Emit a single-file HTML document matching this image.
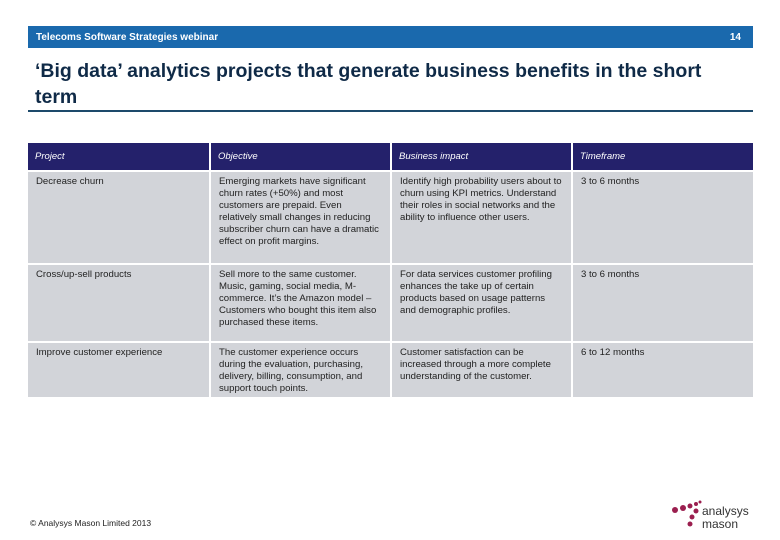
<!DOCTYPE html>
<html><head><meta charset="utf-8"><style>
body{margin:0;width:780px;height:540px;background:#fff;position:relative;font-family:"Liberation Sans",sans-serif;overflow:hidden}
.bar{position:absolute;left:28px;top:26px;width:725px;height:22px;background:#1a69ad;color:#fff;font-size:10px;font-weight:bold}
.bar span{position:absolute;top:6px}
h1{position:absolute;left:35px;top:58px;margin:0;font-size:19.5px;line-height:26px;color:#0f2a47;font-weight:bold;width:700px}
.rule{position:absolute;left:28px;top:110px;width:725px;height:2px;background:#1d4a6b}
table{position:absolute;left:28px;top:143px;border-collapse:separate;border-spacing:2px 2px;margin:-2px;font-size:9.6px;line-height:12px;color:#222}
td{vertical-align:top;padding:4px 8px 0 8px;background:#d2d4d9}
th{background:#24216b;color:#fff;font-style:italic;font-weight:normal;text-align:left;height:27px;padding:0 7px;font-size:9.5px}
.foot{position:absolute;left:30px;top:518px;font-size:8.5px;color:#222}
</style></head><body>
<div class="bar"><span style="left:8px">Telecoms Software Strategies webinar</span><span style="right:12px">14</span></div>
<h1>‘Big data’ analytics projects that generate business benefits in the short term</h1>
<div class="rule"></div>
<table>
<tr><th style="width:167px">Project</th><th style="width:165px">Objective</th><th style="width:165px">Business impact</th><th style="width:166px">Timeframe</th></tr>
<tr style="height:91px"><td>Decrease churn</td><td>Emerging markets have significant churn rates (+50%) and most customers are prepaid. Even relatively small changes in reducing subscriber churn can have a dramatic effect on profit margins.</td><td>Identify high probability users about to churn using KPI metrics. Understand their roles in social networks and the ability to influence other users.</td><td>3 to 6 months</td></tr>
<tr style="height:76px"><td>Cross/up-sell products</td><td>Sell more to the same customer. Music, gaming, social media, M-commerce. It’s the Amazon model – Customers who bought this item also purchased these items.</td><td>For data services customer profiling enhances the take up of certain products based on usage patterns and demographic profiles.</td><td>3 to 6 months</td></tr>
<tr style="height:54px"><td>Improve customer experience</td><td>The customer experience occurs during the evaluation, purchasing, delivery, billing, consumption, and support touch points.</td><td>Customer satisfaction can be increased through a more complete understanding of the customer.</td><td>6 to 12 months</td></tr>
</table>
<div class="foot">© Analysys Mason Limited 2013</div>
<svg style="position:absolute;left:670px;top:498px" width="90" height="34">
<g fill="#9b1f4f"><circle cx="5" cy="12" r="3"/><circle cx="13" cy="10" r="3"/><circle cx="20" cy="8" r="2.5"/><circle cx="26" cy="6" r="2"/><circle cx="26" cy="13" r="2.5"/><circle cx="22" cy="19" r="2.5"/><circle cx="20" cy="26" r="2.5"/><circle cx="30" cy="4" r="1.5"/></g>
<text x="32" y="17" font-size="12" fill="#333" font-family="Liberation Sans">analysys</text>
<text x="32" y="30" font-size="12" fill="#333" font-family="Liberation Sans">mason</text>
</svg>
</body></html>
